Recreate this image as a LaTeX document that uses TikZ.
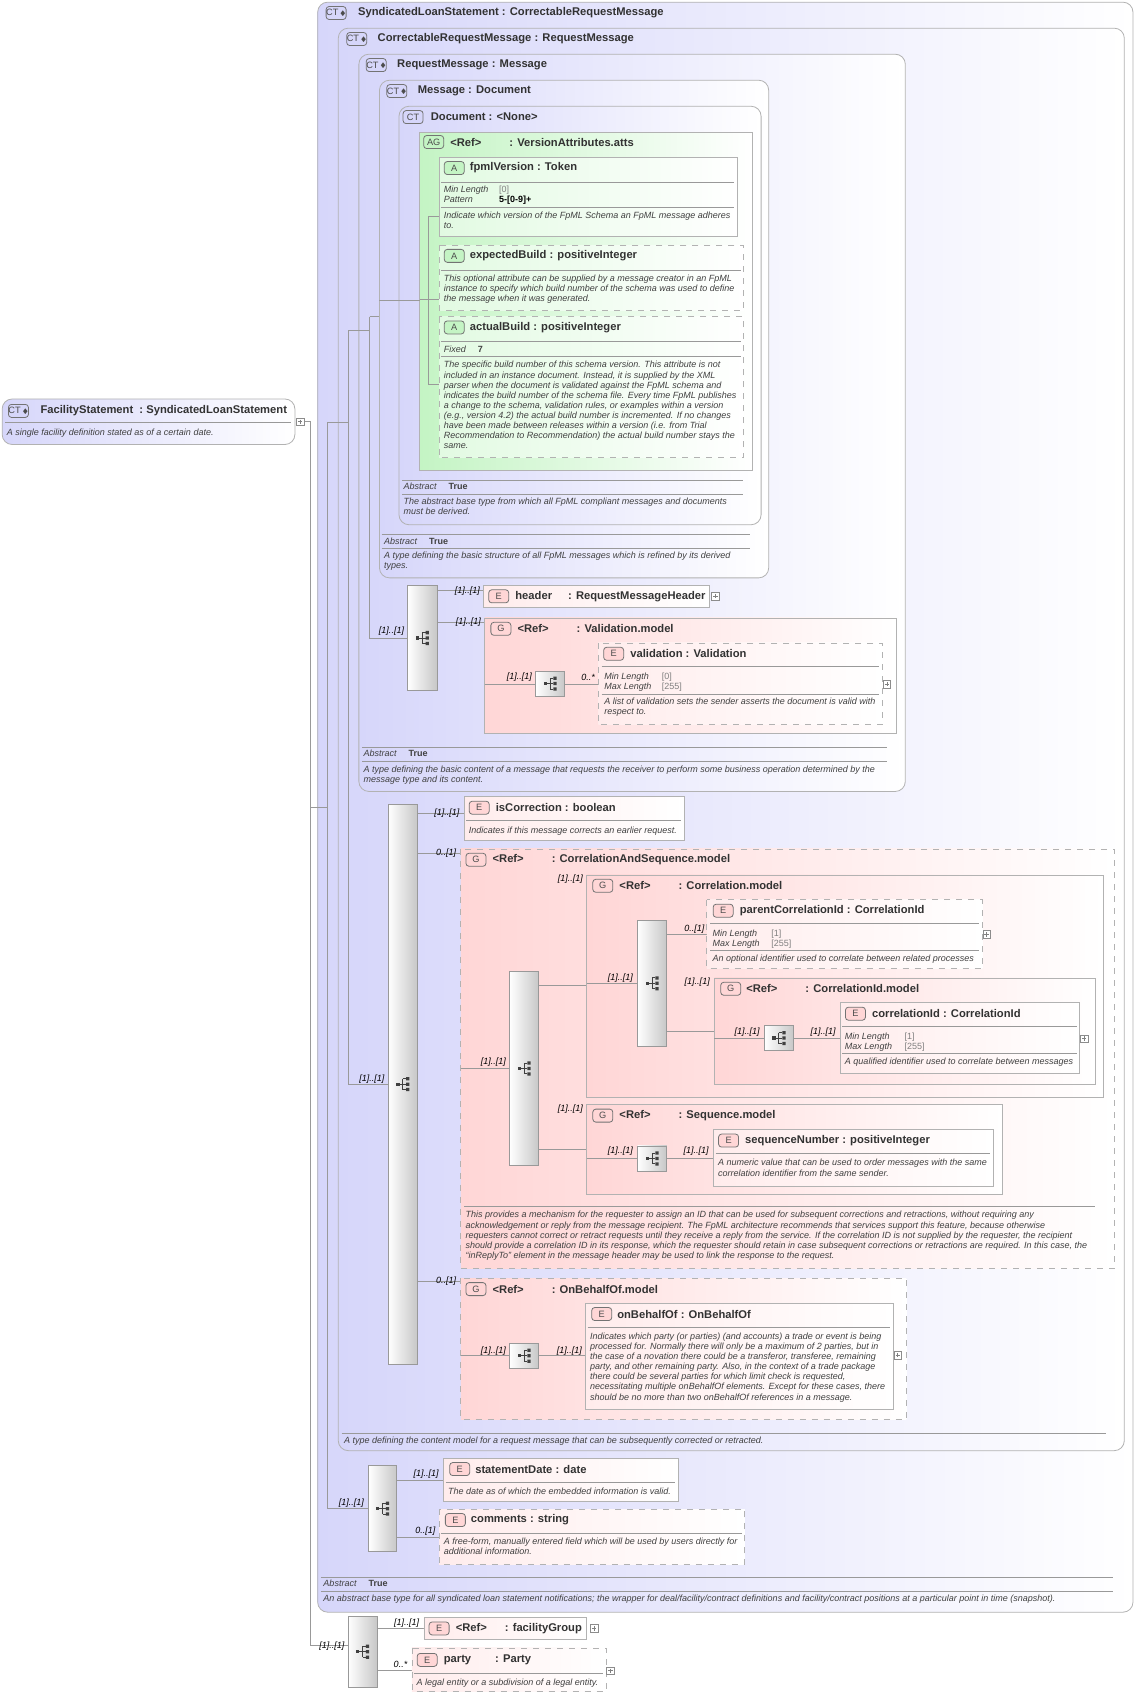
\documentclass[tikz,border=0pt]{standalone}
\usepackage{amssymb}
\usepackage{fontspec}
\setmainfont{Liberation Sans}
\begin{document}
\definecolor{lav}{RGB}{214,214,250}
\definecolor{pnk}{RGB}{255,214,214}
\definecolor{lpnk}{RGB}{255,236,236}
\definecolor{grn}{RGB}{196,244,196}
\definecolor{lgrn}{RGB}{226,250,226}
\definecolor{ttlc}{RGB}{50,50,50}
\begin{tikzpicture}[x=0.542pt,y=-0.542pt,
 ct/.style={draw=black!30,rounded corners=5pt,left color=lav,right color=white},
 ag/.style={draw=black!30,left color=grn,right color=white},
 attb/.style={draw=black!30,left color=lgrn,right color=white},
 grp/.style={draw=black!30,left color=pnk,right color=white},
 el/.style={draw=black!30,left color=lpnk,right color=white},
 dsh/.style={dashed},
 ttl/.style={anchor=west,inner sep=0pt,text=ttlc,font=\fontsize{5.6}{6.5}\selectfont\bfseries},
 dsc/.style={anchor=north west,inner sep=0pt,align=left,text=black!75,font=\fontsize{4.5}{5.05}\selectfont\itshape},
 val/.style={anchor=north west,inner sep=0pt,align=left,text=black!50,font=\fontsize{4.5}{5.05}\selectfont},
 lbl/.style={anchor=east,inner sep=0pt,font=\fontsize{4.5}{5}\selectfont\itshape},
 bdg/.style={draw=black!55,rounded corners=1.5pt,inner sep=0pt,minimum width=10pt,minimum height=6.5pt,font=\fontsize{4.6}{5}\selectfont,text=black!70},
 ln/.style={draw=black!40,line width=0.4pt},
 sp/.style={draw=black!40,line width=0.35pt}]
\newcommand\Bdg[4]{\node[bdg,fill=#4] at (#1,#2) {#3};}
\newcommand\Ttl[3]{\node[ttl] at (#1,#2) {#3};}
\newcommand\Dsc[3]{\node[dsc] at (#1,#2-4) {#3};}
\newcommand\Hl[3]{\draw[sp] (#1,#3)--(#2,#3);}
\newcommand\Lbl[3]{\node[lbl] at (#1,#2) {#3};}
\newcommand\Plus[2]{\draw[black!45,fill=white,line width=0.3pt] (#1-3.5,#2-3.5) rectangle (#1+3.5,#2+3.5); \draw[black!50,line width=0.3pt] (#1-2,#2)--(#1+2,#2) (#1,#2-2)--(#1,#2+2);}
\newcommand\Ico[2]{\fill[black!75] (#1-6,#2-1.5) rectangle (#1-3,#2+1.5);
 \draw[black!75,line width=0.5pt] (#1-3,#2)--(#1,#2) (#1,#2-5)--(#1,#2+5) (#1,#2-5)--(#1+3,#2-5) (#1,#2)--(#1+3,#2) (#1,#2+5)--(#1+3,#2+5);
 \fill[black!75] (#1+3,#2-6.5) rectangle (#1+6,#2-3.5) (#1+3,#2-1.5) rectangle (#1+6,#2+1.5) (#1+3,#2+3.5) rectangle (#1+6,#2+6.5);}
\newcommand\Seq[4]{\draw[black!40,left color=white,right color=black!22] (#1,#2) rectangle (#3,#4);
 \pgfmathsetmacro\sqx{(#1+#3)/2}\pgfmathsetmacro\sqy{(#2+#4)/2}\Ico{\sqx}{\sqy}}
\newcommand\CTP{CT\,\raisebox{0.2pt}{\scalebox{0.7}{$\blacklozenge$}}}
\useasboundingbox (0,0) rectangle (1049,1568);
% FacilityStatement
\draw[ct] (2,368) rectangle (272,410);
\Bdg{17}{379}{\CTP}{lav}
\Ttl{37}{379}{FacilityStatement\ \ :\ SyndicatedLoanStatement}
\Hl{5}{268}{390}\Dsc{6}{399}{A single facility definition stated as of a certain date.}
% nested CTs
\draw[ct] (293,2) rectangle (1045,1487);
\Bdg{310}{12}{\CTP}{lav}\Ttl{330}{12}{SyndicatedLoanStatement : CorrectableRequestMessage}
\draw[ct] (312,26) rectangle (1037,1338);
\Bdg{329}{36}{\CTP}{lav}\Ttl{348}{36}{CorrectableRequestMessage : RequestMessage}
\draw[ct] (331,50) rectangle (835,730);
\Bdg{347}{60}{\CTP}{lav}\Ttl{366}{60}{RequestMessage : Message}
\draw[ct] (350,74) rectangle (709,533);
\Bdg{366}{84}{\CTP}{lav}\Ttl{385}{84}{Message : Document}
\draw[ct] (368,98) rectangle (702,484);
\Bdg{381}{108}{CT}{lav}\Ttl{397}{108}{Document : <None>}
\draw[ag] (387,122) rectangle (694,434);
\Bdg{400}{131}{AG}{grn}\Ttl{415}{131}{<Ref>\hspace{14pt}: VersionAttributes.atts}
% tree lines
\draw[ln] (277,389)--(286,389)--(286,1518)--(321,1518);
\draw[ln] (286,745)--(302,745);
\draw[ln] (302,390)--(302,1391)--(340,1391);
\draw[ln] (302,390)--(321,390); \draw[ln] (321,305)--(321,1000)--(358,1000);
\draw[ln] (321,305)--(341,305); \draw[ln] (341,292)--(341,589)--(376,589);
\draw[ln] (341,292)--(350,292); \draw[ln] (350,277)--(368,277)--(387,277);
\draw[ln] (395,200)--(395,355); \draw[ln] (395,200)--(405,200) (387,276)--(405,276) (395,355)--(405,355);
\Plus{277}{389}
\draw[attb] (405,145) rectangle (680,218);
\Bdg{419}{155}{A}{grn}\Ttl{433}{155}{fpmlVersion : Token}
\Hl{407}{677}{168}
\Dsc{409}{175}{Min Length\\Pattern}\node[val] at (460,171){[0]};
\node[val,font=\fontsize{4.5}{5.05}\selectfont\bfseries,text=black] at (460,180.5){5-[0-9]+};
\Hl{407}{677}{191}\Dsc{409}{199}{Indicate which version of the FpML Schema an FpML message adheres\\to.}
\draw[attb,dsh] (405,226) rectangle (686,286);
\Bdg{419}{236}{A}{grn}\Ttl{433}{236}{expectedBuild : positiveInteger}
\Hl{407}{683}{249}\Dsc{409}{257}{This optional attribute can be supplied by a message creator in an FpML\\instance to specify which build number of the schema was used to define\\the message when it was generated.}
\draw[attb,dsh] (405,292) rectangle (686,422);
\Bdg{419}{302}{A}{grn}\Ttl{433}{302}{actualBuild : positiveInteger}
\Hl{407}{683}{315}\Dsc{409}{323}{Fixed\hspace{6pt}{\upshape\bfseries 7}}
\Hl{407}{683}{329}\Dsc{409}{337}{The specific build number of this schema version. This attribute is not\\included in an instance document. Instead, it is supplied by the XML\\parser when the document is validated against the FpML schema and\\indicates the build number of the schema file. Every time FpML publishes\\a change to the schema, validation rules, or examples within a version\\(e.g., version 4.2) the actual build number is incremented. If no changes\\have been made between releases within a version (i.e. from Trial\\Recommendation to Recommendation) the actual build number stays the\\same.}
\Hl{371}{685}{443}\Dsc{372}{449}{Abstract\hspace{6pt}{\upshape\bfseries True}}\Hl{371}{685}{456}
\Dsc{372}{463}{The abstract base type from which all FpML compliant messages and documents\\must be derived.}
\Hl{352}{692}{493}\Dsc{354}{500}{Abstract\hspace{6pt}{\upshape\bfseries True}}\Hl{352}{692}{506}
\Dsc{354}{513}{A type defining the basic structure of all FpML messages which is refined by its derived\\types.}
% RequestMessage content
\Seq{376}{540}{403}{637}\Lbl{373}{582}{[1]..[1]}
\draw[ln] (403,545)--(446,545) (403,574)--(447,574);
\Lbl{443}{545}{[1]..[1]}\Lbl{444}{574}{[1]..[1]}
\draw[el] (446,540) rectangle (654,560);
\Bdg{460}{550}{E}{pnk}\Ttl{475}{550}{header\hspace{8pt}: RequestMessageHeader}\Plus{660}{550}
\draw[grp] (447,570) rectangle (827,676);
\Bdg{462}{580}{G}{pnk}\Ttl{477}{580}{<Ref>\hspace{14pt}: Validation.model}
\draw[ln] (447,631)--(494,631) (521,631)--(552,631);
\Seq{494}{619}{521}{642}\Lbl{491}{625}{[1]..[1]}\Lbl{549}{625}{0..*}
\draw[el,dsh] (552,593) rectangle (814,668);
\Bdg{566}{603}{E}{pnk}\Ttl{581}{603}{validation : Validation}
\Hl{555}{811}{615}\Dsc{557}{624}{Min Length\\Max Length}
\node[val] at (610,620){[0]\\{}[255]};
\Hl{555}{811}{640}\Dsc{557}{647}{A list of validation sets the sender asserts the document is valid with\\respect to.}\Plus{818}{631}
\Hl{334}{818}{689}\Dsc{335}{695}{Abstract\hspace{6pt}{\upshape\bfseries True}}\Hl{334}{818}{702}
\Dsc{335}{710}{A type defining the basic content of a message that requests the receiver to perform some business operation determined by the\\message type and its content.}
% CorrectableRequestMessage content
\Seq{358}{742}{385}{1258}\Lbl{355}{995}{[1]..[1]}
\draw[ln] (385,750)--(428,750) (385,787)--(425,787) (385,1182)--(425,1182);
\Lbl{424}{750}{[1]..[1]}\Lbl{421}{787}{0..[1]}\Lbl{421}{1182}{0..[1]}
\draw[el] (428,735) rectangle (631,775);
\Bdg{442}{745}{E}{pnk}\Ttl{457}{745}{isCorrection : boolean}
\Hl{430}{628}{757}\Dsc{432}{766}{Indicates if this message corrects an earlier request.}
\draw[grp,dsh] (425,783) rectangle (1028,1170);
\Bdg{439}{793}{G}{pnk}\Ttl{454}{793}{<Ref>\hspace{14pt}: CorrelationAndSequence.model}
\draw[ln] (425,985)--(470,985);
\Seq{470}{896}{497}{1075}\Lbl{467}{980}{[1]..[1]}
\draw[ln] (497,909)--(541,909) (497,1060)--(541,1060);
\Lbl{538}{811}{[1]..[1]}\Lbl{538}{1023}{[1]..[1]}
\draw[grp] (541,807) rectangle (1018,1012);
\Bdg{556}{817}{G}{pnk}\Ttl{571}{817}{<Ref>\hspace{14pt}: Correlation.model}
\draw[ln] (541,907)--(588,907);
\Seq{588}{849}{615}{965}\Lbl{584}{902}{[1]..[1]}
\draw[ln] (615,862)--(652,862) (615,951)--(659,951);
\Lbl{650}{857}{0..[1]}\Lbl{655}{906}{[1]..[1]}
\draw[el,dsh] (652,830) rectangle (906,893);
\Bdg{667}{840}{E}{pnk}\Ttl{682}{840}{parentCorrelationId : CorrelationId}
\Hl{655}{903}{852}\Dsc{657}{861}{Min Length\\Max Length}
\node[val] at (711,857){[1]\\{}[255]};
\Hl{655}{903}{877}\Dsc{657}{884}{An optional identifier used to correlate between related processes}\Plus{910}{862}
\draw[grp] (659,902) rectangle (1010,1000);
\Bdg{674}{912}{G}{pnk}\Ttl{688}{912}{<Ref>\hspace{14pt}: CorrelationId.model}
\draw[ln] (659,958)--(705,958) (732,958)--(775,958);
\Seq{705}{946}{732}{969}\Lbl{701}{952}{[1]..[1]}\Lbl{771}{952}{[1]..[1]}
\draw[el] (775,925) rectangle (996,990);
\Bdg{789}{935}{E}{pnk}\Ttl{804}{935}{correlationId : CorrelationId}
\Hl{777}{993}{947}\Dsc{779}{956}{Min Length\\Max Length}
\node[val] at (834,952){[1]\\{}[255]};
\Hl{777}{993}{972}\Dsc{779}{979}{A qualified identifier used to correlate between messages}\Plus{1000}{958}
\draw[grp] (541,1019) rectangle (925,1102);
\Bdg{556}{1029}{G}{pnk}\Ttl{571}{1029}{<Ref>\hspace{14pt}: Sequence.model}
\draw[ln] (541,1068)--(588,1068) (615,1068)--(658,1068);
\Seq{588}{1057}{615}{1080}\Lbl{584}{1062}{[1]..[1]}\Lbl{654}{1062}{[1]..[1]}
\draw[el] (658,1042) rectangle (916,1094);
\Bdg{672}{1052}{E}{pnk}\Ttl{687}{1052}{sequenceNumber : positiveInteger}
\Hl{660}{913}{1064}\Dsc{662}{1073}{A numeric value that can be used to order messages with the same\\correlation identifier from the same sender.}
\Hl{428}{1010}{1113}\Dsc{429}{1121}{This provides a mechanism for the requester to assign an ID that can be used for subsequent corrections and retractions, without requiring any\\acknowledgement or reply from the message recipient. The FpML architecture recommends that services support this feature, because otherwise\\requesters cannot correct or retract requests until they receive a reply from the service. If the correlation ID is not supplied by the requester, the recipient\\should provide a correlation ID in its response, which the requester should retain in case subsequent corrections or retractions are required. In this case, the\\``inReplyTo'' element in the message header may be used to link the response to the request.}
\draw[grp,dsh] (425,1179) rectangle (836,1309);
\Bdg{439}{1189}{G}{pnk}\Ttl{454}{1189}{<Ref>\hspace{14pt}: OnBehalfOf.model}
\draw[ln] (425,1250)--(470,1250) (497,1250)--(540,1250);
\Seq{470}{1239}{497}{1262}\Lbl{467}{1246}{[1]..[1]}\Lbl{537}{1246}{[1]..[1]}
\draw[el] (540,1202) rectangle (824,1300);
\Bdg{555}{1212}{E}{pnk}\Ttl{569}{1212}{onBehalfOf : OnBehalfOf}
\Hl{542}{821}{1224}\Dsc{544}{1233}{Indicates which party (or parties) (and accounts) a trade or event is being\\processed for. Normally there will only be a maximum of 2 parties, but in\\the case of a novation there could be a transferor, transferee, remaining\\party, and other remaining party. Also, in the context of a trade package\\there could be several parties for which limit check is requested,\\necessitating multiple onBehalfOf elements. Except for these cases, there\\should be no more than two onBehalfOf references in a message.}\Plus{828}{1250}
\Hl{315}{1020}{1322}\Dsc{317}{1329}{A type defining the content model for a request message that can be subsequently corrected or retracted.}
% SyndicatedLoanStatement content
\Seq{340}{1352}{366}{1431}\Lbl{336}{1386}{[1]..[1]}
\draw[ln] (366,1365)--(409,1365) (366,1418)--(405,1418);
\Lbl{405}{1360}{[1]..[1]}\Lbl{402}{1412}{0..[1]}
\draw[el] (409,1345) rectangle (626,1385);
\Bdg{424}{1355}{E}{pnk}\Ttl{438}{1355}{statementDate : date}
\Hl{411}{623}{1367}\Dsc{413}{1376}{The date as of which the embedded information is valid.}
\draw[el,dsh] (405,1392) rectangle (687,1443);
\Bdg{420}{1402}{E}{pnk}\Ttl{434}{1402}{comments : string}
\Hl{407}{684}{1414}\Dsc{409}{1422}{A free-form, manually entered field which will be used by users directly for\\additional information.}
\Hl{296}{1027}{1455}\Dsc{298}{1461}{Abstract\hspace{6pt}{\upshape\bfseries True}}\Hl{296}{1027}{1468}
\Dsc{298}{1475}{An abstract base type for all syndicated loan statement notifications; the wrapper for deal/facility/contract definitions and facility/contract positions at a particular point in time (snapshot).}
% bottom
\Seq{321}{1491}{348}{1556}\Lbl{318}{1518}{[1]..[1]}
\draw[ln] (348,1502)--(391,1502) (348,1541)--(380,1541);
\Lbl{387}{1497}{[1]..[1]}\Lbl{376}{1535}{0..*}
\draw[el] (391,1492) rectangle (541,1512);
\Bdg{405}{1502}{E}{pnk}\Ttl{420}{1502}{<Ref>\hspace{9pt}: facilityGroup}\Plus{548}{1502}
\draw[el,dsh] (380,1520) rectangle (559,1560);
\Bdg{394}{1531}{E}{pnk}\Ttl{409}{1531}{party\hspace{12pt}: Party}
\Hl{382}{556}{1543}\Dsc{384}{1552}{A legal entity or a subdivision of a legal entity.}\Plus{563}{1541}
\end{tikzpicture}
\end{document}
